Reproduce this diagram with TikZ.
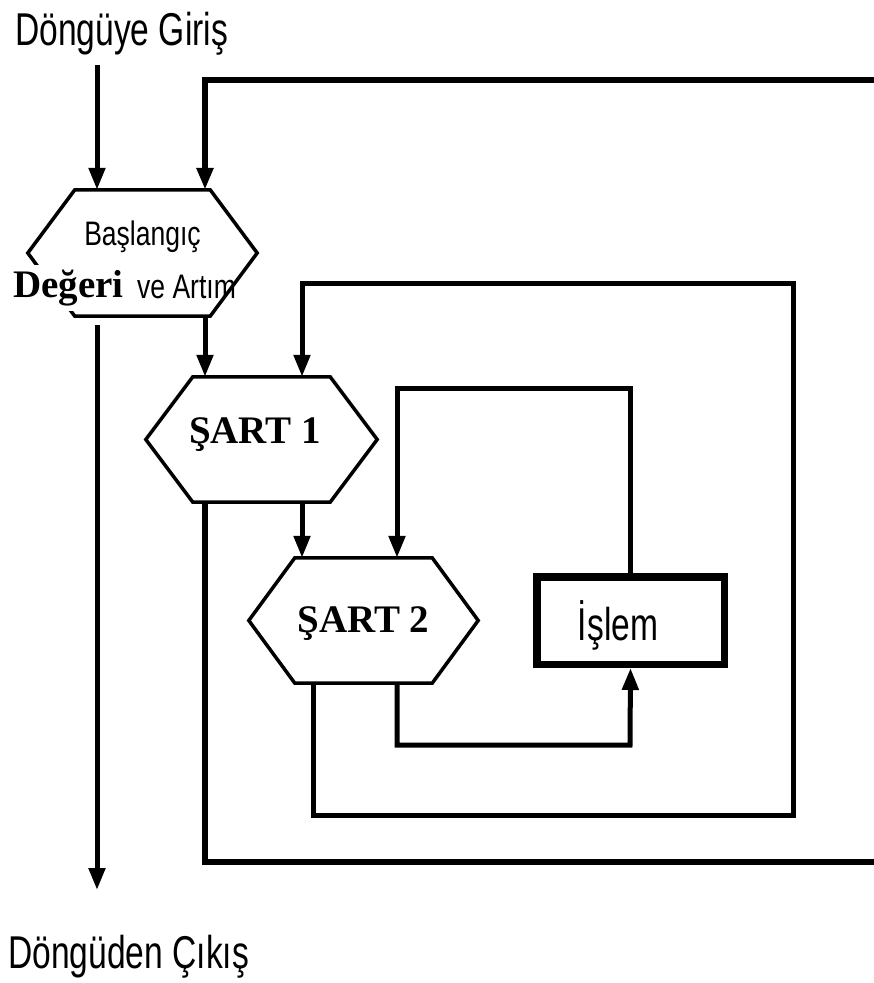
\documentclass[tikz,border=0pt]{standalone}
\usepackage{fontspec}
\setmainfont{Liberation Serif}
\newfontfamily\narrowsans[FakeStretch=0.73]{Liberation Sans}
\newfontfamily\midsans[FakeStretch=0.78]{Liberation Sans}
\usetikzlibrary{arrows.meta}

% hexagon outline round an (empty) node: #1 node, #2 how far the points stick out
\newcommand{\hexa}[2]{\draw[hexline] (#1.north west) -- (#1.north east) -- ([xshift=#2]#1.east)
   -- (#1.south east) -- (#1.south west) -- ([xshift=-#2]#1.west) -- cycle;}

\tikzset{
  hexline/.style={line width=3.5bp, line join=miter},
  hexnode/.style={inner sep=0pt, minimum width=137bp, minimum height=125bp},
  link/.style={line width=5bp},
  arr/.style={link, -{Triangle[length=22bp,width=16bp]}},
  bigsans/.style={inner sep=0pt, font=\narrowsans\fontsize{46bp}{50bp}\selectfont},
  smallsans/.style={inner sep=0pt, font=\midsans\fontsize{34bp}{37bp}\selectfont},
  boldserif/.style={inner sep=0pt, font=\bfseries\fontsize{39bp}{42bp}\selectfont}
}

\begin{document}
\begin{tikzpicture}[x=1bp, y=-1bp]
    \useasboundingbox (0,0) rectangle (874,983);
    \clip (0,0) rectangle (874,983);

    % --- columns of the vertical lines ---
    \coordinate (colA) at (97,0);
    \coordinate (colB) at (205,0);
    \coordinate (colC) at (302,0);
    \coordinate (colD) at (397,0);
    \coordinate (colE) at (313,0);

    % --- boxes ---
    \node[hexnode, minimum width=135bp, minimum height=126bp] (start) at (142.5,253) {};
    \node[hexnode] (cond1) at (261.5,439.5) {};
    \node[hexnode] (cond2) at (363.5,620.5) {};
    \hexa{start}{47bp}
    \hexa{cond1}{47bp}
    \hexa{cond2}{46bp}
    \node[draw, line width=7.5bp, inner sep=0pt, minimum width=187.5bp, minimum height=87.5bp] (work) at (630.5,620.5) {};

    % --- texts ---
    \node[bigsans, anchor=base west] (enter) at (15,45) {Döngüye Giriş};
    \node[bigsans, anchor=base west] (leave) at (8,968) {Döngüden Çıkış};
    \node[smallsans, anchor=base] (startA) at (142.5,245) {Başlangıç};
    \node[smallsans, anchor=base west] (startC) at (137,298) {ve Artım};
    \node[boldserif, anchor=base west, fill=white, inner xsep=3bp, inner ysep=5bp] (startB) at (10,297) {Değeri};
    \node[boldserif, anchor=base] (cond1t) at (255,443) {ŞART 1};
    \node[boldserif, anchor=base] (cond2t) at (363.5,632) {ŞART 2};
    \node[bigsans, anchor=base] (workt) at (618,640) {İşlem};

    % --- corner points ---
    \coordinate (in) at (97,65);
    \coordinate (out0) at (97,325);
    \coordinate (out1) at (97,890);
    \coordinate (outerB) at (884,862);
    \coordinate (outerT) at (884,80);
    \coordinate (midB) at (793,815);
    \coordinate (midT) at (793,283);
    \coordinate (innT) at (397,388);
    \coordinate (innB) at (630,745);

    % --- connectors ---
    \draw[arr] (in) -- (in |- start.north);
    \draw[arr] (out0) -- (out1);
    \draw[arr] (start.south -| colB) -- (cond1.north -| colB);
    \draw[arr] (cond1.south -| colC) -- (cond2.north -| colC);
    \draw[arr, line width=6bp] (cond1.south -| colB) |- (outerB) -- (outerT) -| (start.north -| colB);
    \draw[arr] (cond2.south -| colE) |- (midB) -- (midT) -| (cond1.north -| colC);
    \draw[arr] (work.north) |- (innT) -- (cond2.north -| colD);
    \draw[arr] (cond2.south -| colD) |- (innB) -- (work.south);
\end{tikzpicture}
\end{document}
